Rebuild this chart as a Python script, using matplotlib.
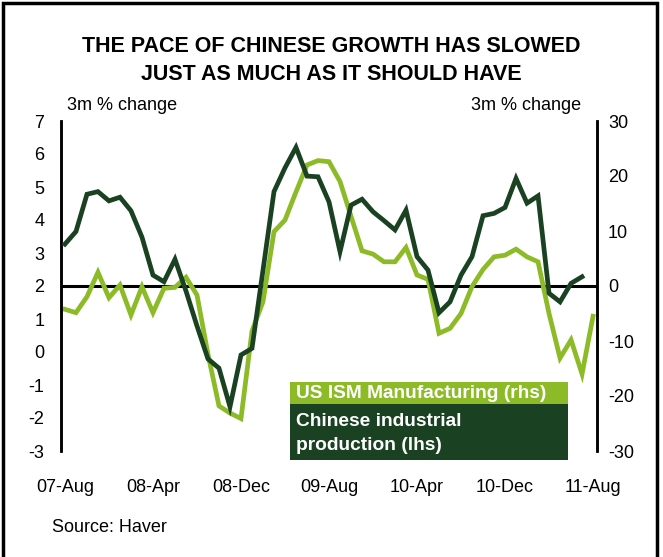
import matplotlib
matplotlib.use('Agg')
import matplotlib.pyplot as plt
from matplotlib.patches import Rectangle
import numpy as np

plt.rcParams['font.family'] = ['Liberation Sans', 'DejaVu Sans']
plt.rcParams['axes.unicode_minus'] = False

# Data (monthly, starting Aug 2007)
tick_labels = ['07-Aug', '08-Apr', '08-Dec', '09-Aug', '10-Apr', '10-Dec', '11-Aug']
tick_step = 8  # months between tick labels

china_ip = [3.27, 3.65, 4.78, 4.86, 4.58, 4.69, 4.28, 3.48, 2.33, 2.13,
            2.81, 1.85, 0.79, -0.21, -0.49, -1.66, -0.09, 0.11, 2.48, 4.86,
            5.58, 6.20, 5.33, 5.31, 4.55, 3.04, 4.45, 4.63, 4.25, 3.98,
            3.70, 4.30, 2.89, 2.48, 1.19, 1.52, 2.33, 2.89, 4.13, 4.20,
            4.38, 5.26, 4.51, 4.73, 1.78, 1.52, 2.08, 2.28]

us_ism = [-4.24, -4.85, -1.95, 2.49, -2.13, 0.18, -5.27, -0.13, -4.85, -0.42,
          -0.24, 1.58, -1.64, -12.4, -21.8, -23.1, -24.1, -8.2, -2.85, 9.87,
          12.0, 17.1, 22.0, 22.8, 22.6, 19.0, 12.7, 6.4, 5.8, 4.4,
          4.4, 7.0, 2.0, 1.2, -8.6, -7.7, -5.0, -0.1, 3.0, 5.3,
          5.6, 6.7, 5.3, 4.4, -5.0, -13.1, -9.8, -16.0, -5.5]

left_ticks = list(range(-3, 8))
right_ticks = list(range(-30, 31, 10))

LIGHT = '#8DBA27'
DARK = '#1A4222'

W, H = 663, 557
fig = plt.figure(figsize=(W / 100, H / 100), dpi=100)

def fx(x):
    return x / W

def fy(y):
    return 1 - y / H

ax = fig.add_axes([fx(61), fy(451), fx(597) - fx(61), fy(121) - fy(451)])
ax2 = ax.twinx()

x_china = np.arange(len(china_ip))
x_ism = np.arange(len(us_ism))

ax2.axhline(0, color='black', lw=2.2, zorder=1)
ax2.plot(x_ism, us_ism, color=LIGHT, lw=3.4, solid_joinstyle='miter', zorder=2)
ax.plot(x_china, china_ip, color=DARK, lw=3.4, solid_joinstyle='miter', zorder=3)
ax.set_zorder(ax2.get_zorder() + 1)
ax.patch.set_visible(False)

ax.set_xlim(-0.36, len(us_ism) - 1 + 0.36)
ax.set_ylim(-3, 7)
ax2.set_ylim(-30, 30)
ax.set_yticks(left_ticks)
ax2.set_yticks(right_ticks)
ax.set_xticks(np.arange(len(tick_labels)) * tick_step)
ax.set_xticklabels(tick_labels)

for a in (ax, ax2):
    for s in ('top', 'bottom'):
        a.spines[s].set_visible(False)
    a.spines['left'].set_linewidth(1.8)
    a.spines['right'].set_linewidth(1.8)
    a.tick_params(length=0, labelsize=13)
ax.tick_params(axis='y', pad=12)
ax2.tick_params(axis='y', pad=8)
ax.tick_params(axis='x', pad=20)

# Titles and axis captions
fig.text(fx(331), fy(47), 'THE PACE OF CHINESE GROWTH HAS SLOWED', ha='center', va='center',
         fontsize=15.5, fontweight='bold')
fig.text(fx(331), fy(74), 'JUST AS MUCH AS IT SHOULD HAVE', ha='center', va='center',
         fontsize=15.5, fontweight='bold')
fig.text(fx(67), fy(106), '3m % change', ha='left', va='center', fontsize=13)
fig.text(fx(581), fy(106), '3m % change', ha='right', va='center', fontsize=13)
fig.text(fx(52), fy(527), 'Source: Haver', ha='left', va='center', fontsize=13)

# Legend boxes
fig.patches.append(Rectangle((fx(290), fy(404)), fx(568) - fx(290), fy(382) - fy(404),
                             transform=fig.transFigure, facecolor=LIGHT, edgecolor='none', zorder=5))
fig.patches.append(Rectangle((fx(290), fy(460)), fx(568) - fx(290), fy(404) - fy(460),
                             transform=fig.transFigure, facecolor=DARK, edgecolor='none', zorder=5))
fig.text(fx(296), fy(394), 'US ISM Manufacturing (rhs)', color='white', fontweight='bold',
         fontsize=13.8, ha='left', va='center', zorder=6)
fig.text(fx(296), fy(421), 'Chinese industrial', color='white', fontweight='bold',
         fontsize=13.8, ha='left', va='center', zorder=6)
fig.text(fx(296), fy(446), 'production (lhs)', color='white', fontweight='bold',
         fontsize=13.8, ha='left', va='center', zorder=6)

# Outer frame
fig.patches.append(Rectangle((fx(3), fy(565)), fx(657) - fx(3), fy(3) - fy(565),
                             transform=fig.transFigure, facecolor='none', edgecolor='black',
                             lw=2.5, zorder=10))

fig.savefig('out.png', dpi=100)
